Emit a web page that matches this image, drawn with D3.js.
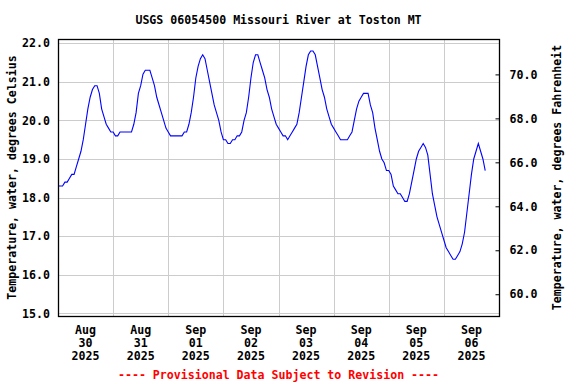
<!DOCTYPE html>
<html>
<head>
<meta charset="utf-8">
<script src="https://cdn.jsdelivr.net/npm/d3@7"></script>
<style>
  body { margin: 0; background: #fff; }
  text { font-family: "DejaVu Sans Mono", monospace; font-weight: bold; font-size: 11.6px; }
</style>
</head>
<body>
<div id="chart"></div>
<script>
// Chart values
var title = "USGS 06054500 Missouri River at Toston MT"
var footer = "---- Provisional Data Subject to Revision ----"
var leftLabel = "Temperature, water, degrees Celsius"
var rightLabel = "Temperature, water, degrees Fahrenheit"

var startTime = new Date(2025, 7, 30, 0, 0)   // first reading, hourly after that
var endTime = new Date(2025, 8, 7, 0, 0)

// hourly water temperature, deg C (one row per day)
var tempC = [
  18.3, 18.3, 18.3, 18.4, 18.4, 18.5, 18.6, 18.6, 18.8, 19.0, 19.2, 19.5, 19.9, 20.3, 20.6, 20.8, 20.9, 20.9, 20.7, 20.3, 20.1, 19.9, 19.8, 19.7,
  19.7, 19.6, 19.6, 19.7, 19.7, 19.7, 19.7, 19.7, 19.7, 19.9, 20.2, 20.7, 20.9, 21.2, 21.3, 21.3, 21.3, 21.1, 20.9, 20.6, 20.4, 20.2, 20.0, 19.8,
  19.7, 19.6, 19.6, 19.6, 19.6, 19.6, 19.6, 19.7, 19.7, 19.9, 20.2, 20.6, 21.1, 21.4, 21.6, 21.7, 21.6, 21.3, 21.0, 20.7, 20.4, 20.2, 20.0, 19.7,
  19.5, 19.5, 19.4, 19.4, 19.5, 19.5, 19.6, 19.6, 19.7, 20.0, 20.2, 20.6, 21.1, 21.5, 21.7, 21.7, 21.5, 21.3, 21.1, 20.8, 20.6, 20.3, 20.1, 19.9,
  19.8, 19.7, 19.6, 19.6, 19.5, 19.6, 19.7, 19.8, 19.9, 20.2, 20.6, 21.0, 21.4, 21.7, 21.8, 21.8, 21.7, 21.4, 21.1, 20.8, 20.6, 20.3, 20.1, 19.9,
  19.8, 19.7, 19.6, 19.5, 19.5, 19.5, 19.5, 19.6, 19.7, 20.0, 20.3, 20.5, 20.6, 20.7, 20.7, 20.7, 20.4, 20.2, 19.8, 19.5, 19.2, 19.0, 18.9, 18.7,
  18.7, 18.6, 18.3, 18.2, 18.1, 18.1, 18.0, 17.9, 17.9, 18.1, 18.4, 18.7, 19.0, 19.2, 19.3, 19.4, 19.3, 19.1, 18.6, 18.1, 17.8, 17.5, 17.3, 17.1,
  16.9, 16.7, 16.6, 16.5, 16.4, 16.4, 16.5, 16.6, 16.8, 17.1, 17.6, 18.1, 18.6, 19.0, 19.2, 19.4, 19.2, 19.0, 18.7
]

var celsiusTicks = [15, 16, 17, 18, 19, 20, 21, 22]
var fahrenheitTicks = [60, 62, 64, 66, 68, 70]

// Dimensions ("top" is taken by window.top, so plot edges get their own names)
var width = 576
var height = 384
var plotLeft = 58
var plotRight = 499
var plotTop = 39
var plotBottom = 316

var svg = d3.select('#chart')
            .append('svg')
            .attr('width', width)
            .attr('height', height)

// Scales
var xScale = d3.scaleTime()
               .domain([startTime, endTime])
               .range([plotLeft, plotRight])
var yScale = d3.scaleLinear()
               .domain([14.93, 22.11])
               .range([plotBottom, plotTop])
var fScale = d3.scaleLinear()
               .domain([59.01, 71.61])
               .range([plotBottom, plotTop])

// the readings paired with their times
var series = tempC.map((v, i) => [d3.timeHour.offset(startTime, i), v])

// Grid
var days = d3.timeDay.range(d3.timeDay.offset(startTime, 1), endTime)
svg.append('g')
   .selectAll('line')
   .data(days)
   .enter()
   .append('line')
   .attr('x1', d => Math.round(xScale(d)) + 0.5)
   .attr('x2', d => Math.round(xScale(d)) + 0.5)
   .attr('y1', plotTop)
   .attr('y2', plotBottom)
   .attr('stroke', '#cccccc')

svg.append('g')
   .selectAll('line')
   .data(celsiusTicks)
   .enter()
   .append('line')
   .attr('x1', plotLeft)
   .attr('x2', plotRight)
   .attr('y1', d => Math.round(yScale(d)) + 0.5)
   .attr('y2', d => Math.round(yScale(d)) + 0.5)
   .attr('stroke', '#cccccc')

// Data line
var line = d3.line()
             .x(d => xScale(d[0]))
             .y(d => yScale(d[1]))

svg.append('path')
   .datum(series)
   .attr('d', line)
   .attr('fill', 'none')
   .attr('stroke', '#0000ff')
   .attr('stroke-width', 1.1)

// Frame
svg.append('rect')
   .attr('x', plotLeft + 0.5)
   .attr('y', plotTop + 0.5)
   .attr('width', plotRight - plotLeft)
   .attr('height', plotBottom - plotTop)
   .attr('fill', 'none')
   .attr('stroke', '#000')
   .attr('stroke-width', 1.3)

// Left axis labels (no tick marks)
var yAxis = d3.axisLeft(yScale)
              .tickValues(celsiusTicks)
              .tickFormat(d3.format('.1f'))
              .tickSize(0)
              .tickPadding(8)
var gy = svg.append('g')
            .attr('transform', 'translate(' + plotLeft + ',0)')
            .call(yAxis)
gy.select('.domain').remove()
gy.selectAll('text').attr('fill', '#000')
gy.attr('font-size', null).attr('font-family', null)

// Right axis, ticks point inward
var fAxis = d3.axisRight(fScale)
              .tickValues(fahrenheitTicks)
              .tickFormat(d3.format('.1f'))
              .tickSizeInner(-4)
              .tickSizeOuter(0)
              .tickPadding(10)
var gf = svg.append('g')
            .attr('transform', 'translate(' + (plotRight + 0.5) + ',0)')
            .call(fAxis)
gf.select('.domain').remove()
gf.selectAll('line').attr('stroke', '#000')
gf.selectAll('text').attr('fill', '#000')
gf.attr('font-size', null).attr('font-family', null)

// Date labels at noon of each day
var noons = d3.timeDay.range(startTime, endTime).map(d => d3.timeHour.offset(d, 12))
var fmtLines = [d3.timeFormat('%b'), d3.timeFormat('%d'), d3.timeFormat('%Y')]
var dateGroup = svg.append('g')
noons.forEach(d => {
  fmtLines.forEach((f, j) => {
    dateGroup.append('text')
             .attr('x', xScale(d))
             .attr('y', 334 + j * 12.8)
             .attr('text-anchor', 'middle')
             .text(f(d))
  })
})

// Titles
var mid = (plotLeft + plotRight) / 2
svg.append('text')
   .attr('x', mid)
   .attr('y', 24)
   .attr('text-anchor', 'middle')
   .text(title)

svg.append('text')
   .attr('x', mid)
   .attr('y', 379)
   .attr('text-anchor', 'middle')
   .attr('fill', '#ff0000')
   .text(footer)

svg.append('text')
   .attr('transform', 'translate(16,' + ((plotTop + plotBottom) / 2) + ') rotate(-90)')
   .attr('text-anchor', 'middle')
   .text(leftLabel)

svg.append('text')
   .attr('transform', 'translate(561,' + ((plotTop + plotBottom) / 2) + ') rotate(-90)')
   .attr('text-anchor', 'middle')
   .text(rightLabel)
</script>
</body>
</html>
